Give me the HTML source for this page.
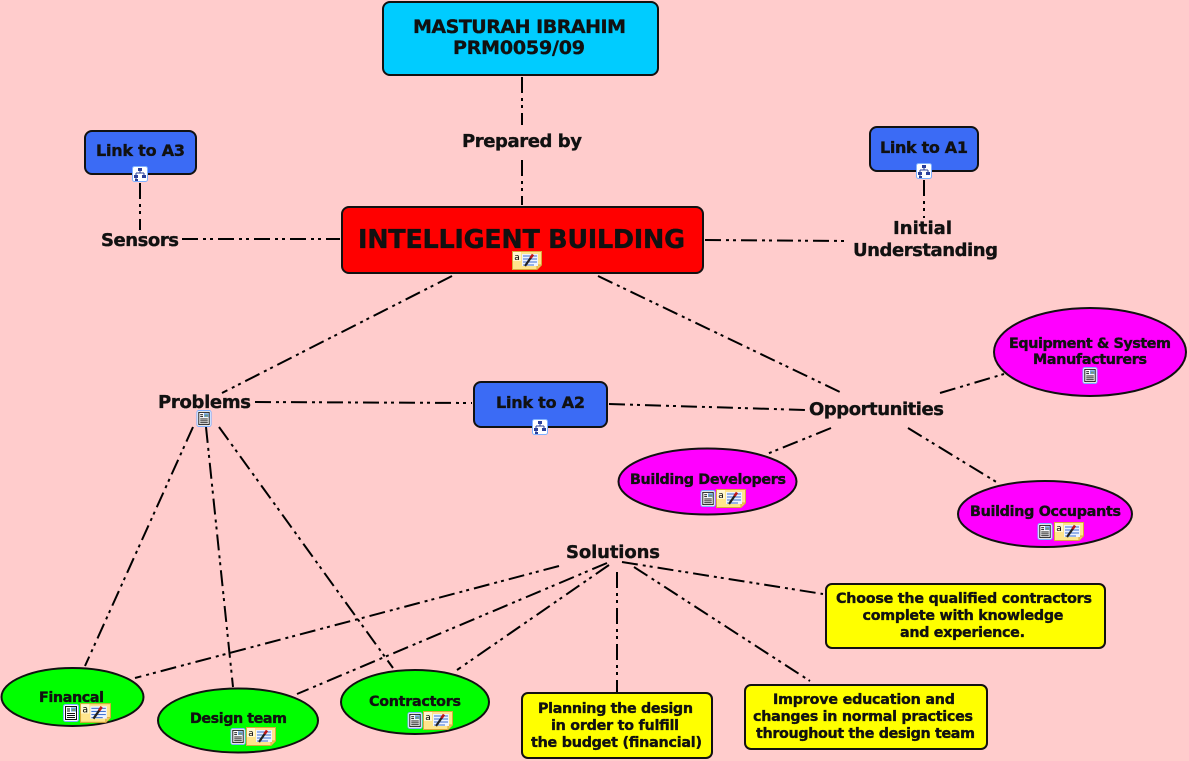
<!DOCTYPE html>
<html>
<head>
<meta charset="utf-8">
<style>
html,body{margin:0;padding:0;background:#FFCCCC;}
svg{display:block;}
text.t{font-family:"DejaVu Sans","Liberation Sans",sans-serif;font-weight:bold;fill:#111;stroke:#111;stroke-width:0.35px;}
</style>
</head>
<body>
<svg width="1189" height="761" viewBox="0 0 1189 761" xmlns="http://www.w3.org/2000/svg">
<defs>
  <symbol id="doc" viewBox="0 0 16 18">
    <rect x="0.5" y="0.5" width="15" height="17" rx="2" fill="#fff" stroke="#7fb0ff" stroke-width="1"/>
    <rect x="2.5" y="2.5" width="11" height="13" fill="#fff" stroke="#111" stroke-width="1"/>
    <rect x="8" y="3.5" width="5" height="4" fill="#6aa0e0"/>
    <rect x="9" y="5" width="3" height="2" fill="#7a9a70"/>
    <line x1="4" y1="5" x2="7" y2="5" stroke="#111" stroke-width="1"/>
    <line x1="4" y1="7" x2="7" y2="7" stroke="#111" stroke-width="1"/>
    <line x1="4" y1="9.5" x2="12" y2="9.5" stroke="#111" stroke-width="1"/>
    <line x1="4" y1="11.5" x2="12" y2="11.5" stroke="#111" stroke-width="1"/>
    <line x1="4" y1="13.5" x2="12" y2="13.5" stroke="#111" stroke-width="1"/>
  </symbol>
  <symbol id="note" viewBox="0 0 30 19">
    <path d="M0.5 0.5 H29.5 V14 L25 18.5 H0.5 Z" fill="#ffe58c" stroke="#d9a93c" stroke-width="1"/>
    <path d="M25 18.5 L25 14 L29.5 14" fill="#f4c860" stroke="#d9a93c" stroke-width="1"/>
    <rect x="1" y="1" width="8" height="9" fill="#fff7d0"/>
    <text x="5" y="9" text-anchor="middle" style="font-family:'DejaVu Sans',sans-serif;font-weight:normal;font-size:9px;fill:#000">a</text>
    <rect x="10" y="3" width="16" height="12" fill="#eef3ff"/>
    <line x1="11" y1="5" x2="25" y2="5" stroke="#3d6fd0" stroke-width="1"/>
    <line x1="11" y1="8" x2="25" y2="8" stroke="#3d6fd0" stroke-width="1"/>
    <line x1="11" y1="11" x2="25" y2="11" stroke="#3d6fd0" stroke-width="1"/>
    <line x1="11" y1="14" x2="22" y2="14" stroke="#3d6fd0" stroke-width="1"/>
    <line x1="13" y1="15" x2="20" y2="5" stroke="#222" stroke-width="2.2"/>
    <line x1="18.5" y1="7" x2="21" y2="3.5" stroke="#c01818" stroke-width="2.6"/>
  </symbol>
  <symbol id="tree" viewBox="0 0 16 16">
    <rect x="0.5" y="0.5" width="15" height="15" rx="2" fill="#fff" stroke="#7fb0ff" stroke-width="1"/>
    <rect x="6" y="2" width="4" height="3" fill="#2a3f9a"/>
    <line x1="8" y1="5" x2="8" y2="7" stroke="#2a3f9a"/>
    <line x1="4" y1="7" x2="12" y2="7" stroke="#2a3f9a"/>
    <line x1="4" y1="7" x2="4" y2="9" stroke="#2a3f9a"/>
    <line x1="12" y1="7" x2="12" y2="9" stroke="#2a3f9a"/>
    <rect x="2" y="9" width="4" height="3" fill="#2a3f9a"/>
    <rect x="10" y="9" width="4" height="3" fill="#2a3f9a"/>
    <line x1="4" y1="12" x2="4" y2="14" stroke="#2a3f9a"/>
    <rect x="3" y="13" width="3" height="2" fill="#2a3f9a"/>
  </symbol>
</defs>

<rect width="1189" height="761" fill="#FFCCCC"/>

<!-- connectors -->
<g stroke="#000" stroke-width="2" fill="none" stroke-dasharray="16 5 3 4 3 5">
  <line x1="522" y1="77" x2="522" y2="125"/>
  <line x1="522" y1="160" x2="522" y2="205"/>
  <line x1="140" y1="183" x2="140" y2="230"/>
  <line x1="182" y1="239" x2="340" y2="239"/>
  <line x1="924" y1="180" x2="924" y2="218"/>
  <line x1="705" y1="240" x2="848" y2="241"/>
  <line x1="452" y1="276" x2="222" y2="393"/>
  <line x1="255" y1="402" x2="472" y2="403"/>
  <line x1="609" y1="404" x2="805" y2="410"/>
  <line x1="598" y1="276" x2="840" y2="392"/>
  <line x1="940" y1="393" x2="1004" y2="374"/>
  <line x1="831" y1="428" x2="767" y2="454"/>
  <line x1="908" y1="428" x2="998" y2="483"/>
  <line x1="193" y1="427" x2="85" y2="666"/>
  <line x1="206" y1="427" x2="233" y2="687"/>
  <line x1="219" y1="427" x2="393" y2="668"/>
  <line x1="559" y1="566" x2="135" y2="678"/>
  <line x1="607" y1="563" x2="297" y2="694"/>
  <line x1="609" y1="565" x2="457" y2="670"/>
  <line x1="617" y1="572" x2="617" y2="692"/>
  <line x1="634" y1="567" x2="810" y2="681"/>
  <line x1="622" y1="562" x2="823" y2="594"/>
</g>

<!-- top node -->
<rect x="383" y="2" width="275" height="73" rx="7" fill="#00CCFF" stroke="#111" stroke-width="2"/>
<text class="t" x="519.5" y="33" text-anchor="middle" font-size="19" textLength="213" lengthAdjust="spacing">MASTURAH IBRAHIM</text>
<text class="t" x="519" y="54" text-anchor="middle" font-size="19" textLength="132" lengthAdjust="spacing">PRM0059/09</text>

<text class="t" x="522" y="147" text-anchor="middle" font-size="18" textLength="120" lengthAdjust="spacing">Prepared by</text>

<!-- main node -->
<rect x="342" y="207" width="361" height="66" rx="7" fill="#FF0000" stroke="#111" stroke-width="2"/>
<text class="t" x="521.5" y="248" text-anchor="middle" font-size="25.5" textLength="327" lengthAdjust="spacing">INTELLIGENT BUILDING</text>
<use href="#note" x="512" y="251" width="30" height="19"/>

<!-- Link to A3 -->
<rect x="85" y="131" width="111" height="43" rx="7" fill="#3B6BF5" stroke="#111" stroke-width="2"/>
<text class="t" x="140.5" y="156" text-anchor="middle" font-size="16" textLength="89" lengthAdjust="spacing">Link to A3</text>
<use href="#tree" x="132" y="166" width="16" height="16"/>
<text class="t" x="140" y="246" text-anchor="middle" font-size="18" textLength="78" lengthAdjust="spacing">Sensors</text>

<!-- Link to A1 -->
<rect x="870" y="127" width="108" height="44" rx="7" fill="#3B6BF5" stroke="#111" stroke-width="2"/>
<text class="t" x="924" y="153" text-anchor="middle" font-size="16" textLength="88" lengthAdjust="spacing">Link to A1</text>
<use href="#tree" x="916" y="163" width="16" height="16"/>
<text class="t" x="922.5" y="234" text-anchor="middle" font-size="18" textLength="59" lengthAdjust="spacing">Initial</text>
<text class="t" x="925.5" y="256" text-anchor="middle" font-size="18" textLength="145" lengthAdjust="spacing">Understanding</text>

<!-- Problems -->
<text class="t" x="204.5" y="408" text-anchor="middle" font-size="18" textLength="93" lengthAdjust="spacing">Problems</text>
<use href="#doc" x="196" y="410" width="16" height="17"/>

<!-- Link to A2 -->
<rect x="474" y="382" width="133" height="45" rx="7" fill="#3B6BF5" stroke="#111" stroke-width="2"/>
<text class="t" x="540.5" y="408" text-anchor="middle" font-size="16" textLength="89" lengthAdjust="spacing">Link to A2</text>
<use href="#tree" x="532" y="419" width="16" height="16"/>

<!-- Opportunities -->
<text class="t" x="876.5" y="415" text-anchor="middle" font-size="18" textLength="135" lengthAdjust="spacing">Opportunities</text>

<ellipse cx="1090" cy="352" rx="96" ry="44" fill="#FF00FF" stroke="#111" stroke-width="2"/>
<text class="t" x="1090" y="348" text-anchor="middle" font-size="14.3" textLength="162" lengthAdjust="spacing">Equipment &amp; System</text>
<text class="t" x="1090" y="364" text-anchor="middle" font-size="14.3" textLength="114" lengthAdjust="spacing">Manufacturers</text>
<use href="#doc" x="1082" y="367" width="16" height="17"/>

<ellipse cx="707.5" cy="481.5" rx="89" ry="33" fill="#FF00FF" stroke="#111" stroke-width="2"/>
<text class="t" x="708" y="484" text-anchor="middle" font-size="14.3" textLength="156" lengthAdjust="spacing">Building Developers</text>
<use href="#doc" x="700" y="490" width="16" height="17"/>
<use href="#note" x="716" y="489" width="30" height="19"/>

<ellipse cx="1045" cy="514" rx="87" ry="33" fill="#FF00FF" stroke="#111" stroke-width="2"/>
<text class="t" x="1045.5" y="516" text-anchor="middle" font-size="14.3" textLength="151" lengthAdjust="spacing">Building Occupants</text>
<use href="#doc" x="1037" y="523" width="16" height="17"/>
<use href="#note" x="1054" y="522" width="30" height="19"/>

<!-- Solutions -->
<text class="t" x="613" y="558" text-anchor="middle" font-size="18" textLength="94" lengthAdjust="spacing">Solutions</text>

<!-- green ellipses -->
<ellipse cx="72.5" cy="697" rx="71" ry="29" fill="#00FF00" stroke="#111" stroke-width="2"/>
<text class="t" x="71.5" y="702" text-anchor="middle" font-size="14.3" textLength="65" lengthAdjust="spacing">Financal</text>
<use href="#doc" x="63" y="704" width="16" height="18"/>
<use href="#note" x="80" y="703" width="31" height="20"/>

<ellipse cx="238" cy="720.5" rx="80" ry="32" fill="#00FF00" stroke="#111" stroke-width="2"/>
<text class="t" x="238.5" y="723" text-anchor="middle" font-size="14.3" textLength="97" lengthAdjust="spacing">Design team</text>
<use href="#doc" x="230" y="728" width="16" height="17"/>
<use href="#note" x="246" y="727" width="30" height="19"/>

<ellipse cx="415" cy="702" rx="74" ry="32" fill="#00FF00" stroke="#111" stroke-width="2"/>
<text class="t" x="415" y="706" text-anchor="middle" font-size="14.3" textLength="92" lengthAdjust="spacing">Contractors</text>
<use href="#doc" x="407" y="712" width="16" height="17"/>
<use href="#note" x="423" y="711" width="30" height="19"/>

<!-- yellow boxes -->
<rect x="826" y="584" width="279" height="64" rx="6" fill="#FFFF00" stroke="#111" stroke-width="2"/>
<text class="t" x="964" y="603" text-anchor="middle" font-size="14.3" textLength="256" lengthAdjust="spacing">Choose the qualified contractors</text>
<text class="t" x="963" y="620" text-anchor="middle" font-size="14.3" textLength="201" lengthAdjust="spacing">complete with knowledge</text>
<text class="t" x="962.5" y="637" text-anchor="middle" font-size="14.3" textLength="125" lengthAdjust="spacing">and experience.</text>

<rect x="745" y="685" width="242" height="64" rx="6" fill="#FFFF00" stroke="#111" stroke-width="2"/>
<text class="t" x="864" y="704" text-anchor="middle" font-size="14.3" textLength="182" lengthAdjust="spacing">Improve education and</text>
<text class="t" x="863" y="721" text-anchor="middle" font-size="14.3" textLength="220" lengthAdjust="spacing">changes in normal practices</text>
<text class="t" x="865.5" y="738" text-anchor="middle" font-size="14.3" textLength="219" lengthAdjust="spacing">throughout the design team</text>

<rect x="522" y="693" width="190" height="65" rx="6" fill="#FFFF00" stroke="#111" stroke-width="2"/>
<text class="t" x="615.5" y="713" text-anchor="middle" font-size="14.3" textLength="155" lengthAdjust="spacing">Planning the design</text>
<text class="t" x="615" y="730" text-anchor="middle" font-size="14.3" textLength="128" lengthAdjust="spacing">in order to fulfill</text>
<text class="t" x="616.5" y="747" text-anchor="middle" font-size="14.3" textLength="171" lengthAdjust="spacing">the budget (financial)</text>
</svg>
</body>
</html>
